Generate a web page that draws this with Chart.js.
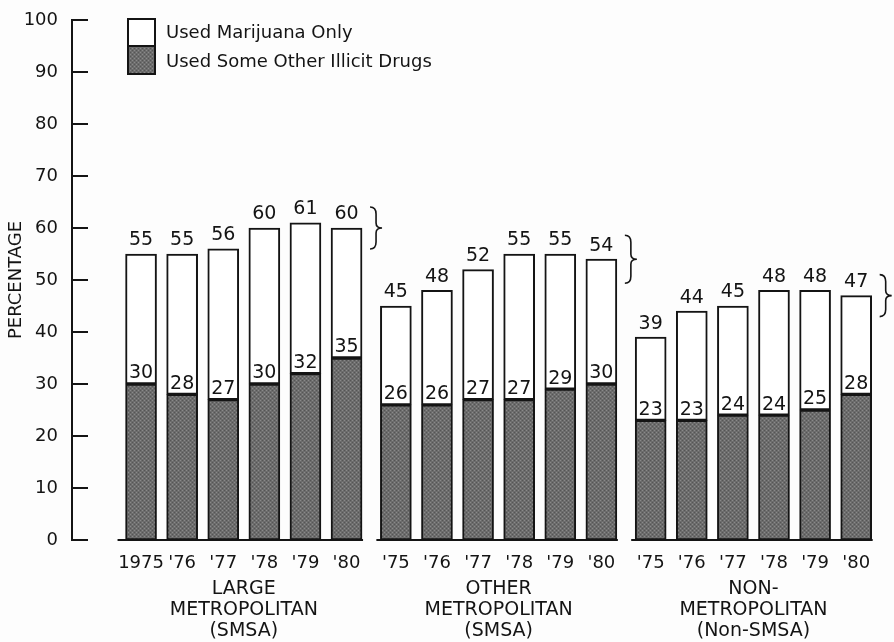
<!DOCTYPE html>
<html>
<head>
<meta charset="utf-8">
<script src="https://cdn.jsdelivr.net/npm/chart.js@4"></script>
<style>
  body { margin: 0; background: #fdfdfd; }
  #wrap { width: 894px; height: 642px; position: relative; }
</style>
</head>
<body>
<div id="wrap"><canvas id="myChart"></canvas></div>
<script>
// data
const xLabels = ['1975', "'76", "'77", "'78", "'79", "'80",
                 "'75", "'76", "'77", "'78", "'79", "'80",
                 "'75", "'76", "'77", "'78", "'79", "'80"]
const groupNames = [
  ['LARGE', 'METROPOLITAN', '(SMSA)'],
  ['OTHER', 'METROPOLITAN', '(SMSA)'],
  ['NON-', 'METROPOLITAN', '(Non-SMSA)']
]
const totalUse = [55, 55, 56, 60, 61, 60, 45, 48, 52, 55, 55, 54, 39, 44, 45, 48, 48, 47]
const otherDrugs = [30, 28, 27, 30, 32, 35, 26, 26, 27, 27, 29, 30, 23, 23, 24, 24, 25, 28]
const yTicks = [0, 10, 20, 30, 40, 50, 60, 70, 80, 90, 100]
const legendLabels = ['Used Marijuana Only', 'Used Some Other Illicit Drugs']

const FONT = '"DejaVu Sans", sans-serif'
const INK = '#141414'
const BAR_W = 31

// bar positions: 6 per group, a little extra room between groups
const xPos = xLabels.map((_, i) => (i % 6) + Math.floor(i / 6) * 6.2)

// stippled grey for the lower part
function makeStipple() {
  const c = document.createElement('canvas')
  c.width = 4; c.height = 4
  const g = c.getContext('2d')
  g.fillStyle = '#6c6c6c'
  g.fillRect(0, 0, 4, 4)
  g.fillStyle = '#8a8a8a'
  g.fillRect(0, 0, 1, 1); g.fillRect(2, 2, 1, 1)
  g.fillStyle = '#555'
  g.fillRect(2, 0, 1, 1); g.fillRect(0, 2, 1, 1)
  return g.createPattern(c, 'repeat')
}
const stipple = makeStipple()

function brace(ctx, x, cy, h) {
  const top = cy - h / 2, bot = cy + h / 2
  ctx.beginPath()
  ctx.moveTo(x, top)
  ctx.quadraticCurveTo(x + 6, top, x + 6, top + 7)
  ctx.lineTo(x + 6, cy - 5)
  ctx.quadraticCurveTo(x + 6, cy, x + 12, cy)
  ctx.quadraticCurveTo(x + 6, cy, x + 6, cy + 5)
  ctx.lineTo(x + 6, bot - 7)
  ctx.quadraticCurveTo(x + 6, bot, x, bot)
  ctx.stroke()
}

const extras = {
  id: 'extras',
  afterDraw(chart) {
    const ctx = chart.ctx
    const xs = chart.scales.x, ys = chart.scales.y
    const area = chart.chartArea
    ctx.save()
    ctx.strokeStyle = INK
    ctx.fillStyle = INK
    ctx.lineWidth = 2

    // y tick marks pointing right
    yTicks.forEach(v => {
      const y = ys.getPixelForValue(v)
      ctx.beginPath(); ctx.moveTo(area.left, y); ctx.lineTo(area.left + 16, y); ctx.stroke()
    })

    // baseline under each group
    for (let g = 0; g < 3; g++) {
      const a = xs.getPixelForValue(xPos[g * 6]) - BAR_W / 2 - (g == 0 ? 8 : 4)
      const b = xs.getPixelForValue(xPos[g * 6 + 5]) + BAR_W / 2 + 1
      const y = ys.getPixelForValue(0)
      ctx.beginPath(); ctx.moveTo(a, y); ctx.lineTo(b, y); ctx.stroke()
    }

    // value labels
    ctx.font = '19px ' + FONT
    ctx.textAlign = 'center'
    ctx.textBaseline = 'bottom'
    const lower = chart.getDatasetMeta(0).data
    const upper = chart.getDatasetMeta(1).data
    lower.forEach((bar, i) => {
      ctx.fillText(String(otherDrugs[i]), bar.x, bar.y - 1)
    })
    upper.forEach((bar, i) => {
      ctx.fillText(String(totalUse[i]), bar.x, bar.y - 4)
    })

    // braces at the end of each group
    ctx.lineWidth = 1.6
    for (let g = 0; g < 3; g++) {
      const last = g * 6 + 5
      const x = xs.getPixelForValue(xPos[last]) + BAR_W / 2 + 8
      const y = ys.getPixelForValue(totalUse[last])
      brace(ctx, x, y, g == 1 ? 48 : 42)
    }
    ctx.lineWidth = 2

    // group names
    ctx.font = '19px ' + FONT
    ctx.textAlign = 'center'
    ctx.textBaseline = 'middle'
    for (let g = 0; g < 3; g++) {
      const cx = (xs.getPixelForValue(xPos[g * 6]) + xs.getPixelForValue(xPos[g * 6 + 5])) / 2
      groupNames[g].forEach((t, k) => ctx.fillText(t, cx, 589 + k * 21))
    }

    // legend: one split swatch
    ctx.fillStyle = '#fff'
    ctx.fillRect(128, 19, 27, 27)
    ctx.fillStyle = stipple
    ctx.fillRect(128, 46, 27, 28)
    ctx.strokeRect(128, 19, 27, 55)
    ctx.beginPath(); ctx.moveTo(128, 46); ctx.lineTo(155, 46); ctx.stroke()
    ctx.fillStyle = INK
    ctx.font = '18px ' + FONT
    ctx.textAlign = 'left'
    ctx.textBaseline = 'middle'
    ctx.fillText(legendLabels[0], 166, 33)
    ctx.fillText(legendLabels[1], 166, 62)
    ctx.restore()
  }
}

new Chart('myChart', {
  type: 'bar',
  data: {
    datasets: [{
      label: legendLabels[1],
      data: xPos.map((x, i) => ({ x: x, y: otherDrugs[i] })),
      backgroundColor: stipple,
      borderColor: INK,
      borderWidth: 2,
      borderSkipped: false,
      barThickness: BAR_W
    }, {
      label: legendLabels[0],
      data: xPos.map((x, i) => ({ x: x, y: totalUse[i] - otherDrugs[i] })),
      backgroundColor: '#ffffff',
      borderColor: INK,
      borderWidth: 2,
      borderSkipped: false,
      barThickness: BAR_W
    }]
  },
  options: {
    responsive: true,
    maintainAspectRatio: false,
    animation: false,
    layout: { padding: { top: 20, right: 0, left: 0, bottom: 0 } },
    plugins: { legend: { display: false }, tooltip: { enabled: false } },
    scales: {
      x: {
        type: 'linear',
        stacked: true,
        min: -1.68,
        max: 18.32,
        offset: false,
        grid: { display: false },
        border: { display: false },
        afterBuildTicks: s => { s.ticks = xPos.map(v => ({ value: v })) },
        afterFit: s => { s.height = 102 },
        ticks: {
          autoSkip: false,
          maxRotation: 0,
          padding: 5,
          color: INK,
          font: { family: FONT, size: 18 },
          callback: (v, i) => xLabels[i]
        }
      },
      y: {
        stacked: true,
        min: 0,
        max: 100,
        grid: { display: false },
        border: { display: true, color: INK, width: 2 },
        afterFit: s => { s.width = 72 },
        afterBuildTicks: s => { s.ticks = yTicks.map(v => ({ value: v })) },
        title: {
          display: true,
          text: 'PERCENTAGE',
          color: INK,
          padding: { top: 6, bottom: 0 },
          font: { family: FONT, size: 18 }
        },
        ticks: {
          padding: 6,
          color: INK,
          font: { family: FONT, size: 18 }
        }
      }
    }
  },
  plugins: [extras]
})
</script>
</body>
</html>
